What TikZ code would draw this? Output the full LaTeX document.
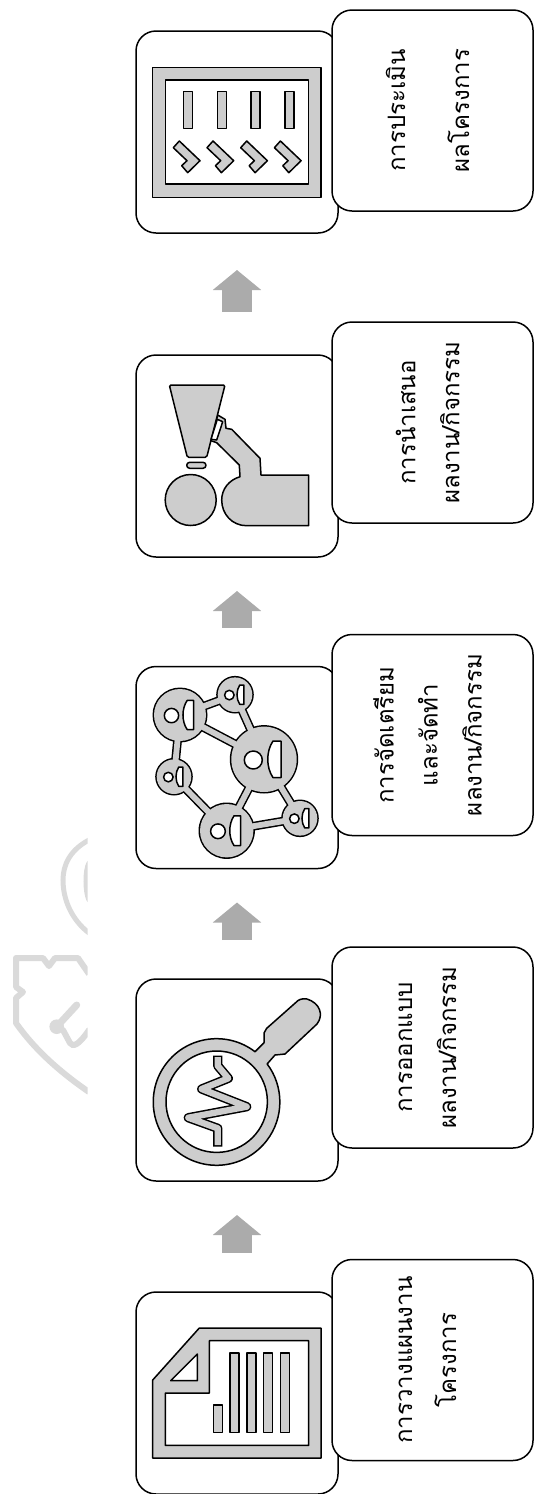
\documentclass[tikz,border=0pt]{standalone}
\usepackage{fontspec}
\newfontfamily\thaifont[Script=Thai]{Loma}
\usetikzlibrary{arrows.meta}
\definecolor{icongray}{HTML}{CDCDCD}
\definecolor{flowgray}{HTML}{ABABAB}
\definecolor{markgray}{HTML}{DADADA}

\begin{document}
\begin{tikzpicture}[
            x=1pt,y=-1pt,
            iconbox/.style={draw=black,line width=1.5pt,fill=white,rounded corners=20pt,minimum size=202pt,inner sep=0pt,outer sep=0pt},
            textbox/.style={iconbox,minimum size=201pt,rotate=90,align=center,text depth=10pt,font=\fontsize{24}{44}\selectfont\thaifont},
            flow/.style={draw=flowgray,line width=29.4pt,-{Triangle[length=20pt,width=47.4pt]},shorten >=34pt,shorten <=39pt},
            part/.style={draw=black,line width=1.5pt,fill=icongray,line join=round},
            hole/.style={draw=black,line width=1.5pt,fill=white,line join=round},
            hub/.style={circle,inner sep=0pt,outer sep=0pt},
            crest/.style={draw=markgray,line width=6pt,line cap=round}
        ]
            \useasboundingbox (0,0) rectangle (534,1494);

            \begin{scope}
                \clip (0,820) rectangle (87.7,1110);
                \draw[crest,line width=5pt] (89,840) .. controls (70,850) and (63,865) .. (63,880) .. controls (63,900) and (72,920) .. (89,933);
                \draw[crest,line width=5pt] (89,863) .. controls (85,870) and (85,892) .. (89,900);
                \draw[crest,line cap=butt,line join=round] (89,974) -- (78,958) -- (55,958) -- (49,966) -- (43,958) -- (16,958) -- (16,987) -- (23,992) -- (16,998) -- (16,1023) .. controls (35,1050) and (60,1072) .. (89,1092);
                \draw[crest,line width=7pt] (56.7,1026.7) -- (76.7,1005);
                \fill[markgray] (56.7,1026.7) circle[radius=7.3];
                \draw[crest] (63,1030) -- (70,1043) .. controls (73,1047) and (78,1046) .. (89,1030);
            \end{scope}

            \node[iconbox] (p5) at (237,132)    {};
            \node[iconbox] (p4) at (237,456)    {};
            \node[iconbox] (p3) at (237,767.5)  {};
            \node[iconbox] (p2) at (237,1080)   {};
            \node[iconbox] (p1) at (237,1393)   {};

            \node[textbox] (t5) at (432.5,110.5) {การประเมิน\\[20pt]ผลโครงการ};
            \node[textbox] (t4) at (432.5,422.5) {การนำเสนอ\\ผลงาน/กิจกรรม};
            \node[textbox] (t3) at (432.5,735)   {การจัดเตรียม\\และจัดทำ\\ผลงาน/กิจกรรม};
            \node[textbox] (t2) at (432.5,1047.5) {การออกแบบ\\ผลงาน/กิจกรรม};
            \node[textbox] (t1) at (432.5,1360)  {การวางแผนงาน\\โครงการ};

            \draw[flow] (p1.north) -- (p2.south);
            \draw[flow] (p2.north) -- (p3.south);
            \draw[flow] (p3.north) -- (p4.south);
            \draw[flow,shorten >=37pt,shorten <=43pt] (p4.north) -- (p5.south);

            \draw[part,even odd rule] (152.7,67.3) rectangle (321,197.3) (165.3,80) rectangle (308.7,184);
            \foreach \dx in {0,33.7,67.4,101.1} {
                \draw[part] (183.7+\dx,91.7) rectangle (192.7+\dx,128.3);
                \draw[part] (173.3+\dx,147.7) -- (179.3+\dx,141) -- (200+\dx,160.7) -- (187.7+\dx,172.7) -- (181.7+\dx,165.7) -- (187+\dx,160.7) -- cycle;
            }

            \draw[part] (217.7,415) -- (225,419.3) -- (226,428.3) -- (231.7,429.3) -- (260,458.3) -- (261,475) -- (308.7,475) -- (308.7,525.7) -- (246.7,525.7) .. controls (232,525.7) and (221.7,514) .. (221.7,500) .. controls (221.7,489) and (229,480) .. (240,476.7) -- (239.3,465) -- (216.7,442.7) -- (211,440.7) -- cycle;
            \draw[part,rounded corners=1.5pt] (169.3,385) -- (225,385) -- (206.7,457.3) -- (187.3,457.3) -- cycle;
            \draw[hole] (217.3,419.3) -- (222.7,421.7) -- (216.7,440) -- (211,439.3) -- cycle;
            \draw[part,rounded corners=3pt] (186.7,462.3) rectangle (206,468.3);
            \draw[part] (190.7,500) circle[radius=25.5];

            \foreach \name/\px/\py/\rad in {big/264/759.3/32.7,tl/180/715/26,top/235/694.7/17.3,lft/174/776.7/17.3,bot/226.7/830.7/26.7,rgt/300/818.3/17.3} {
                \node[hub,fill=black,minimum size=2*\rad*1pt+3pt] (\name) at (\px,\py) {};
            }
            \foreach \from/\to in {tl/top,top/big,tl/big,tl/lft,lft/bot,bot/big,big/rgt,bot/rgt} {
                \draw[black,line width=8.8pt] (\from.center) -- (\to.center);
            }
            \foreach \from/\to in {tl/top,top/big,tl/big,tl/lft,lft/bot,bot/big,big/rgt,bot/rgt} {
                \draw[icongray,line width=5.8pt] (\from.center) -- (\to.center);
            }
            \foreach \name/\px/\py/\rad in {big/264/759.3/32.7,tl/180/715/26,top/235/694.7/17.3,lft/174/776.7/17.3,bot/226.7/830.7/26.7,rgt/300/818.3/17.3} {
                \fill[icongray] (\px,\py) circle[radius=\rad];
                \begin{scope}[shift={(\px,\py)},scale=\rad/32.7]
                    \draw[hole] (-10.7,0.7) circle[radius=9];
                    \draw[hole] (17,-18.3) -- (17,18.3) -- (9,18.3) .. controls (2,8) and (2,-8) .. (9,-18.3) -- cycle;
                \end{scope}
            }

            \draw[part] (267.7,1063.3) -- (275,1055) -- (285,1054) -- (317,1024) .. controls (324,1015) and (320,1003) .. (307,999) .. controls (302,998) and (298,1000) .. (296.7,1001.7) -- (266.7,1028.3) -- (264,1033) -- (264,1042.7) -- (255,1051.7) arc[start angle=-52.6,end angle=-397,radius=63.3] -- cycle;
            \draw[hole] (216.7,1101.7) circle[radius=50.7];
            \draw[black,line width=9.3pt,line join=round] (217.7,1055.5) -- (217.7,1065.7) -- (228.3,1078.3) -- (201.7,1089) -- (246.7,1106.7) -- (188.3,1117.7) -- (217.7,1128.3) -- (217.7,1146.5);
            \draw[icongray,line width=6.3pt,line join=round] (217.7,1057) -- (217.7,1065.7) -- (228.3,1078.3) -- (201.7,1089) -- (246.7,1106.7) -- (188.3,1117.7) -- (217.7,1128.3) -- (217.7,1145);

            \draw[part,even odd rule] (199.3,1328) -- (321,1328) -- (321,1458) -- (152.7,1458) -- (152.7,1380) -- cycle (209.3,1340.7) -- (308.7,1340.7) -- (308.7,1445.3) -- (165.3,1445.3) -- (165.3,1393) -- (209.3,1393) -- cycle;
            \draw[hole] (197.3,1354) -- (197.3,1380.7) -- (170.7,1380.7) -- cycle;
            \draw[part] (213.3,1405) rectangle (222.3,1432.7);
            \foreach \bx in {230,246.8,263.7,280.4} {
                \draw[part] (\bx,1353) rectangle (\bx+9,1432.7);
            }
        \end{tikzpicture}
\end{document}
